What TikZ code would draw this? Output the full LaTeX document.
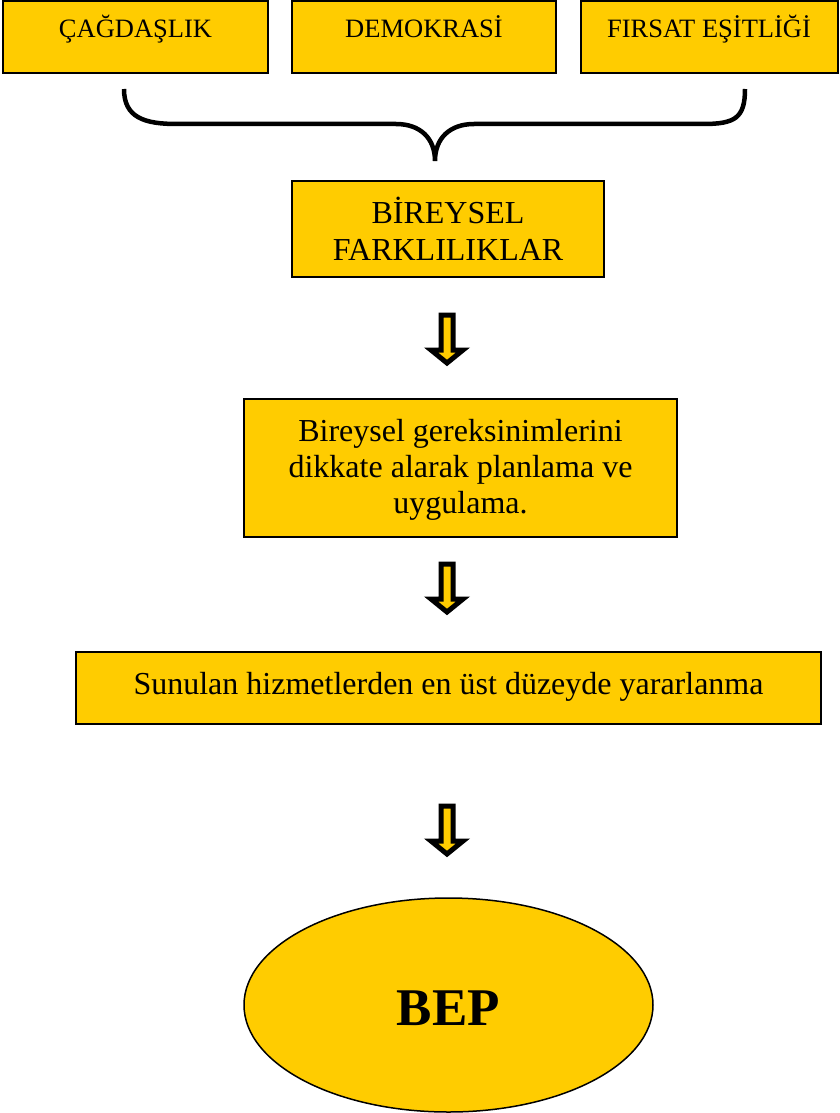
\documentclass[tikz,border=0pt]{standalone}
\usepackage{fontspec}
\setmainfont{Liberation Serif}
\definecolor{byel}{RGB}{255,204,0}
\tikzset{
  box/.style={draw=black, line width=2pt, fill=byel, rectangle, inner sep=0pt},
  toptext/.style={anchor=base, font=\fontsize{26.5}{30}\selectfont, inner sep=0pt},
  bigtext/.style={anchor=base, font=\fontsize{32}{37}\selectfont, inner sep=0pt},
  bigarrow/.style={draw=black, line width=5pt, fill=byel, line join=miter},
  bracestyle/.style={draw=black, line width=4.5pt}
}
\newcommand{\blockarrow}[2]{% x, top y
  \draw[bigarrow] (#1-6,#2) -- (#1+6,#2) -- (#1+6,#2+35) -- (#1+16,#2+35) -- (#1,#2+48) -- (#1-16,#2+35) -- (#1-6,#2+35) -- cycle;}
\begin{document}
\begin{tikzpicture}[x=1pt,y=-1pt]
\useasboundingbox (0,0) rectangle (840,1113);
% top boxes
\node[box, minimum width=265, minimum height=72] (b1) at (135.5,37) {};
\node[box, minimum width=264, minimum height=72] (b2) at (424,37) {};
\node[box, minimum width=257, minimum height=72] (b3) at (709,37) {};
\node[toptext] (t1) at (b1.center |- 0,38) {ÇAĞDAŞLIK};
\node[toptext] (t2) at (b2.center |- 0,38) {DEMOKRASİ};
\node[toptext] (t3) at (b3.center |- 0,38) {FIRSAT EŞİTLİĞİ};
% brace
\coordinate (bl) at (124,89);
\coordinate (bm) at (435,161);
\coordinate (br) at (745,89);
\draw[bracestyle] (bl) .. controls (124,118) and (145,124) .. (177,124) -- (396,124)
  .. controls (420,124) and (435,138) .. (bm)
  .. controls (435,138) and (450,124) .. (474,124) -- (703,124)
  .. controls (735,124) and (745,118) .. (br);
% box 2
\node[box, minimum width=312, minimum height=96] (b4) at (448,229) {};
\node[bigtext] (t4a) at (448,223) {BİREYSEL};
\node[bigtext] (t4b) at (448,260) {FARKLILIKLAR};
\blockarrow{447}{315}
% box 3
\node[box, minimum width=433, minimum height=138] (b5) at (460.5,468) {};
\node[bigtext] (t5a) at (460.5,441) {Bireysel gereksinimlerini};
\node[bigtext] (t5b) at (460.5,477) {dikkate alarak planlama ve};
\node[bigtext] (t5c) at (460.5,513) {uygulama.};
\blockarrow{447}{564}
% box 4
\node[box, minimum width=745, minimum height=72] (b6) at (448.5,688) {};
\node[bigtext] (t6) at (448.5,694) {Sunulan hizmetlerden en üst düzeyde yararlanma};
\blockarrow{447}{806}
% ellipse
\draw[black, line width=1.5pt, fill=byel] (448.5,1005) ellipse [x radius=204.5, y radius=107];
\node[anchor=base, font=\fontsize{53}{60}\selectfont\bfseries, inner sep=0pt] (bep) at (448.5,1025) {BEP};
\end{tikzpicture}
\end{document}
